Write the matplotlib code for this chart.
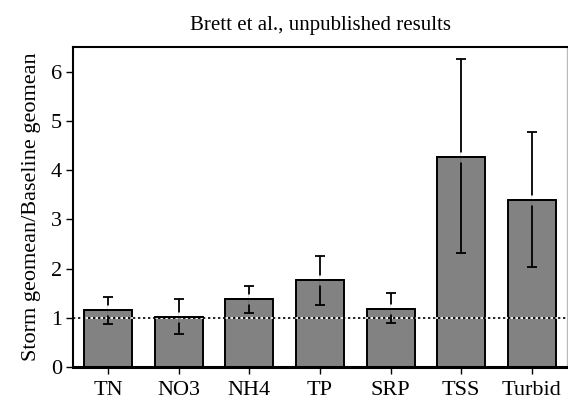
import matplotlib
matplotlib.use("Agg")
import matplotlib.pyplot as plt
import numpy as np

categories = ["TN", "NO3", "NH4", "TP", "SRP", "TSS", "Turbid"]
values = [1.15, 1.02, 1.38, 1.76, 1.17, 4.27, 3.39]
upper = [1.42, 1.38, 1.64, 2.25, 1.51, 6.26, 4.78]
lower = [0.87, 0.68, 1.10, 1.25, 0.90, 2.31, 2.03]
yticks = [0, 1, 2, 3, 4, 5, 6]
title = "Brett et al., unpublished results"
ylabel = "Storm geomean/Baseline geomean"

plt.rcParams['font.family'] = ['Liberation Serif', 'DejaVu Serif']

fig = plt.figure(figsize=(5.68, 3.99), dpi=100)
ax = fig.add_axes([73/568, 1-367/399, (567-73)/568, (367-47)/399])

x = np.arange(len(categories))
vals = np.array(values)
yerr = np.vstack([vals - np.array(lower), np.array(upper) - vals])
width = 0.68
barcolor = "#828282"

ax.bar(x, vals, width=width, color=barcolor, edgecolor="black", linewidth=1.4, zorder=2)
ax.errorbar(x, vals, yerr=yerr, fmt="none", ecolor="black", elinewidth=1.3,
            capsize=3.8, capthick=1.3, zorder=4)
# small break in the error line where it crosses the bar top
gap = 0.1
ax.vlines(x, vals, vals + gap, color="white", linewidth=2.0, zorder=5)
ax.vlines(x, vals - gap, vals, color=barcolor, linewidth=2.0, zorder=5)
ax.hlines(vals, x - width/2, x + width/2, color="black", linewidth=1.4, zorder=6)

ax.axhline(1, color="black", linewidth=1.2, linestyle=(0, (1.5, 1.5)), zorder=3)
ax.axhline(1, color="white", linewidth=1.2, linestyle=(1.5, (1.5, 1.5)), zorder=3)

ax.set_xlim(-0.5, 6.5)
ax.set_ylim(0, 6.5)
ax.set_xticks(x)
ax.set_xticklabels(categories, fontsize=16)
ax.set_yticks(yticks)
ax.set_yticklabels([str(t) for t in yticks], fontsize=16)
ax.tick_params(axis="both", direction="out", length=5, width=1, color="black", pad=3)
ax.tick_params(axis="x", pad=5)
ax.set_ylabel(ylabel, fontsize=16, labelpad=7)
ax.set_title(title, fontsize=15, pad=12)

for side in ["left", "top"]:
    ax.spines[side].set_linewidth(1.5)
ax.spines["bottom"].set_linewidth(2.2)
ax.spines["right"].set_linewidth(1.0)
ax.spines["right"].set_color("#bbbbbb")

fig.savefig("out.png", dpi=100)
